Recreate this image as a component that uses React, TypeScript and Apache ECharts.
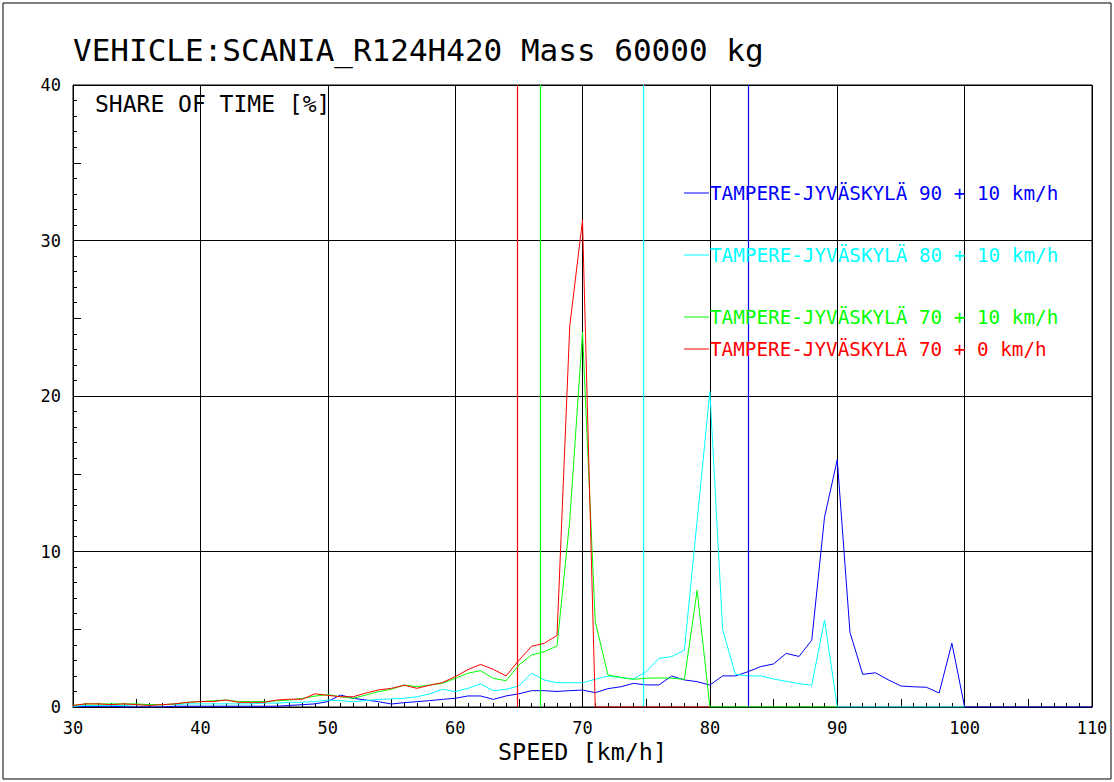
import React, { useEffect, useRef } from "react";
import * as echarts from "echarts";

const FONT = '"DejaVu Sans Mono", monospace';

// speeds start at 30 km/h, 1 km/h step
const startSpeed = 30;

const redValues = [
  0.1, 0.2, 0.2, 0.15, 0.2, 0.15, 0.1, 0.15, 0.2, 0.3,
  0.35, 0.35, 0.45, 0.3, 0.3, 0.3, 0.45, 0.5, 0.5, 0.85,
  0.75, 0.66, 0.66, 0.9, 1.1, 1.2, 1.4, 1.2, 1.4, 1.57,
  1.95, 2.4, 2.74, 2.42, 2.0, 3.0, 3.9, 4.1, 4.6, 24.5,
  31.3, 0, 0, 0, 0, 0, 0, 0, 0, 0, 0,
];

const greenValues = [
  0.1, 0.2, 0.2, 0.2, 0.2, 0.2, 0.15, 0.15, 0.2, 0.3,
  0.35, 0.4, 0.45, 0.35, 0.35, 0.35, 0.4, 0.45, 0.55, 0.7,
  0.8, 0.66, 0.56, 0.77, 0.99, 1.14, 1.41, 1.31, 1.41, 1.52,
  1.84, 2.17, 2.34, 1.84, 1.69, 2.7, 3.34, 3.56, 3.92, 12.0,
  24.1, 5.5, 2.06, 1.9, 1.78, 1.85, 1.87, 1.85, 1.78, 7.5,
  0, 0, 0, 0, 0, 0, 0, 0, 0, 0, 0,
];

const cyanValues = [
  0.05, 0.1, 0.1, 0.1, 0.1, 0.15, 0.15, 0.15, 0.15, 0.2,
  0.2, 0.2, 0.2, 0.2, 0.2, 0.25, 0.25, 0.3, 0.3, 0.35,
  0.45, 0.4, 0.34, 0.42, 0.49, 0.52, 0.56, 0.66, 0.84, 1.14,
  0.99, 1.2, 1.48, 1.05, 1.14, 1.35, 2.17, 1.74, 1.56, 1.56,
  1.56, 1.78, 1.99, 1.9, 1.8, 2.27, 3.13, 3.24, 3.65, 12.0,
  20.3, 5.0, 2.1, 2.0, 2.0, 1.8, 1.65, 1.5, 1.4, 5.6,
  0, 0, 0, 0, 0, 0, 0, 0, 0, 0, 0,
];

const blueValues = [
  0, 0.05, 0.05, 0.05, 0, 0, 0, 0, 0.05, 0.05,
  0.05, 0.05, 0.05, 0.05, 0.05, 0.05, 0.05, 0.1, 0.15, 0.2,
  0.35, 0.77, 0.56, 0.45, 0.34, 0.19, 0.28, 0.34, 0.41, 0.49,
  0.56, 0.71, 0.71, 0.49, 0.71, 0.85, 1.05, 1.05, 1.0, 1.05,
  1.09, 0.92, 1.18, 1.3, 1.52, 1.42, 1.42, 1.99, 1.74, 1.63,
  1.41, 2.0, 2.0, 2.27, 2.6, 2.77, 3.45, 3.25, 4.3, 12.2,
  15.9, 4.8, 2.1, 2.2, 1.75, 1.35, 1.3, 1.27, 0.9, 4.1,
  0, 0, 0, 0, 0, 0, 0, 0, 0, 0, 0,
];

const seriesNames = [
  "TAMPERE-JYVÄSKYLÄ 90 + 10 km/h",
  "TAMPERE-JYVÄSKYLÄ 80 + 10 km/h",
  "TAMPERE-JYVÄSKYLÄ 70 + 10 km/h",
  "TAMPERE-JYVÄSKYLÄ 70 + 0 km/h",
];
const seriesColors = ["#0000ff", "#00ffff", "#00ff00", "#ff0000"];
const seriesValues = [blueValues, cyanValues, greenValues, redValues];
// mean speed markers (vertical lines)
const meanSpeeds = [83.05, 74.8, 66.7, 64.9];

const xTicks = [30, 40, 50, 60, 70, 80, 90, 100, 110];
const yTicks = [0, 10, 20, 30, 40];

const titleText = "VEHICLE:SCANIA_R124H420 Mass 60000 kg";
const yTitleText = "SHARE OF TIME [%]";
const xTitleText = "SPEED [km/h]";

const legendY = [193, 255, 317, 349];

export default function App() {
  const ref = useRef<HTMLDivElement>(null);

  useEffect(() => {
    if (!ref.current) return;
    const chart = echarts.init(ref.current, undefined, { renderer: "svg" });

    const grid = { left: 73, top: 85, width: 1019, height: 622, show: true, borderColor: "#000", borderWidth: 1, backgroundColor: "#fff" };

    const series = seriesValues.map((vals, i) => ({
      name: seriesNames[i],
      type: "line",
      xAxisIndex: 0,
      yAxisIndex: 0,
      symbol: "none",
      data: vals.map((v, k) => [startSpeed + k, v]),
      lineStyle: { color: seriesColors[i], width: 1 },
      itemStyle: { color: seriesColors[i] },
      z: 3 + i,
      markLine: {
        silent: true,
        symbol: "none",
        label: { show: false },
        emphasis: { disabled: true },
        lineStyle: { color: seriesColors[i], width: 1.2, type: "solid", opacity: 1 },
        data: [{ xAxis: meanSpeeds[i] }],
      },
    }));

    const tickX = (interval: number, len: number) => ({
      type: "value",
      position: "bottom",
      offset: 0,
      min: 30,
      max: 110,
      interval,
      axisLine: { show: false },
      axisTick: { show: true, inside: true, length: len, lineStyle: { color: "#000", width: 1 } },
      axisLabel: { show: false },
      splitLine: { show: false },
    });
    const tickY = (interval: number, len: number) => ({
      type: "value",
      position: "left",
      offset: 0,
      min: 0,
      max: 40,
      interval,
      axisLine: { show: false },
      axisTick: { show: true, inside: true, length: len, lineStyle: { color: "#000", width: 1 } },
      axisLabel: { show: false },
      splitLine: { show: false },
    });

    const graphic: any[] = [
      {
        type: "rect",
        shape: { x: 3, y: 3, width: 1108, height: 776 },
        style: { fill: "none", stroke: "#000", lineWidth: 1 },
        silent: true,
      },
      {
        type: "text",
        x: 73,
        y: 50,
        style: { text: titleText, fill: "#000", font: `31px ${FONT}`, verticalAlign: "middle" },
      },
      {
        type: "text",
        x: 95,
        y: 104,
        style: { text: yTitleText, fill: "#000", font: `23px ${FONT}`, verticalAlign: "middle" },
        z: 10,
      },
    ];
    seriesNames.forEach((name, i) => {
      graphic.push({
        type: "line",
        shape: { x1: 684, y1: legendY[i], x2: 709, y2: legendY[i] },
        style: { stroke: seriesColors[i], lineWidth: 1 },
        z: 10,
      });
      graphic.push({
        type: "text",
        x: 710,
        y: legendY[i],
        style: { text: name, fill: seriesColors[i], font: `19.3px ${FONT}`, verticalAlign: "middle" },
        z: 10,
      });
    });

    chart.setOption({
      animation: false,
      backgroundColor: "#fff",
      grid,
      xAxis: [
        {
          type: "value",
          position: "bottom",
          min: 30,
          max: 110,
          interval: 10,
          name: xTitleText,
          nameLocation: "middle",
          nameGap: 33,
          nameTextStyle: { color: "#000", fontFamily: FONT, fontSize: 23.4 },
          axisLine: { show: true, lineStyle: { color: "#000", width: 1 } },
          axisTick: { show: false },
          axisLabel: {
            color: "#000",
            fontFamily: FONT,
            fontSize: 17,
            margin: 12,
            formatter: (v: number) => (xTicks.includes(v) ? String(v) : ""),
          },
          splitLine: { show: true, lineStyle: { color: "#000", width: 1 } },
        },
        tickX(1, 4),
        tickX(5, 8),
      ],
      yAxis: [
        {
          type: "value",
          position: "left",
          min: 0,
          max: 40,
          interval: 10,
          axisLine: { show: true, lineStyle: { color: "#000", width: 1 } },
          axisTick: { show: false },
          axisLabel: {
            color: "#000",
            fontFamily: FONT,
            fontSize: 17,
            margin: 12,
            formatter: (v: number) => (yTicks.includes(v) ? String(v) : ""),
          },
          splitLine: { show: true, lineStyle: { color: "#000", width: 1 } },
        },
        tickY(1, 4),
        tickY(5, 8),
      ],
      series,
      graphic,
    });

    return () => chart.dispose();
  }, []);

  return (
    <div
      ref={ref}
      style={{ position: "fixed", left: 0, top: 0, width: 1114, height: 782, background: "#fff" }}
    />
  );
}
